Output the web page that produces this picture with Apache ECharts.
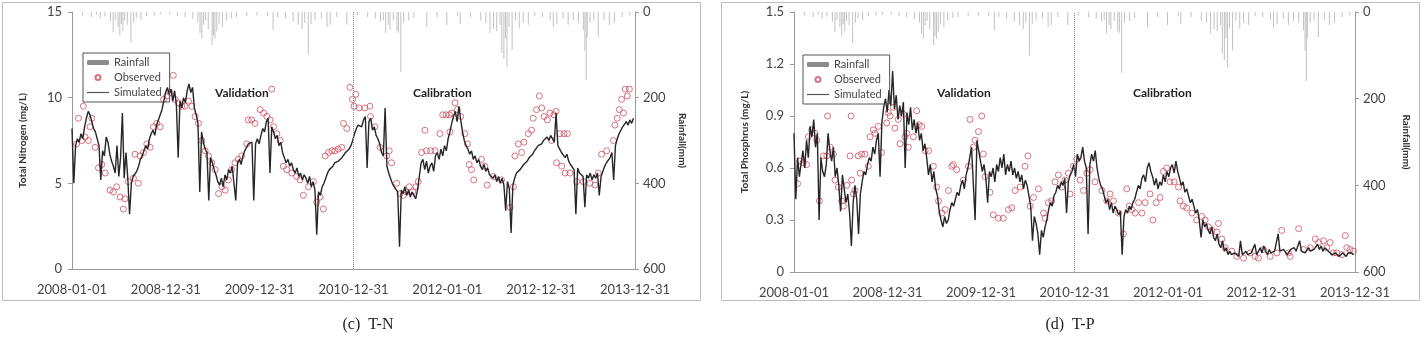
<!DOCTYPE html>
<html lang="en">
<head>
<meta charset="UTF-8">
<title>T-N / T-P</title>
<script src="https://cdn.jsdelivr.net/npm/echarts@6/dist/echarts.min.js"></script>
<style>html,body{margin:0;padding:0;background:#fff}</style>
</head>
<body>
<div id="main" style="width:1428px;height:341px"></div>
<script>
// day 0 = 2008-01-01, simulated values read off the picture once per week
var STEP = 7;
var tickLabels = ['2008-01-01', '2008-12-31', '2009-12-31', '2010-12-31', '2012-01-01', '2012-12-31', '2013-12-31'];
var splitDay = 1095; // 2010-12-31, validation | calibration

// [day, mm]
var rainfall = [
  [40,8],[75,12],[95,6],[110,15],[128,10],[150,22],[160,47],[168,18],[179,35],[186,55],[192,28],[198,45],[205,20],[215,30],[229,72],[240,25],[250,14],[268,18],[290,10],[320,8],[345,6],
  [380,6],[410,10],[440,12],[470,16],[490,24],[498,49],[505,61],[512,30],[520,20],[530,40],[545,77],[550,55],[556,62],[563,45],[572,28],[585,35],[600,20],[620,14],[640,12],[680,10],[720,8],
  [760,10],[782,42],[800,12],[830,15],[860,22],[880,30],[895,40],[905,25],[919,100],[930,28],[945,18],[970,15],[992,35],[1004,30],[1030,12],[1069,30],
  [1110,8],[1150,12],[1180,15],[1200,22],[1211,19],[1220,49],[1230,30],[1237,40],[1250,20],[1264,45],[1270,48],[1279,140],[1290,25],[1310,20],[1330,14],[1380,35],[1420,12],[1458,30],
  [1500,10],[1510,28],[1550,12],[1590,20],[1610,25],[1626,49],[1640,40],[1652,45],[1665,30],[1672,96],[1680,110],[1686,60],[1692,128],[1700,35],[1712,89],[1725,20],[1740,38],[1755,25],[1775,30],[1800,10],
  [1830,12],[1860,19],[1872,35],[1886,28],[1910,15],[1930,30],[1950,20],[1970,25],[1989,42],[1995,90],[2000,159],[2004,60],[2015,25],[2030,20],[2047,58],[2070,18],[2090,30],[2110,25],[2140,12],[2170,8]
];

var simTN = [
  8.2,5.0,7.2,7.6,7.4,7.9,7.6,8.3,8.8,9.2,
  9.0,8.6,8.2,8.0,7.6,7.2,5.2,6.9,6.6,7.7,
  7.4,6.7,6.3,6.0,5.6,7.2,5.4,6.5,9.1,5.3,
  6.8,5.3,3.2,5.0,5.4,5.3,5.7,6.0,6.4,6.6,
  6.9,7.2,7.0,7.6,7.9,8.1,7.8,8.4,8.7,8.6,
  9.3,9.8,10.3,10.6,10.2,10.5,9.8,10.4,9.6,6.5,
  9.8,9.4,10.0,9.7,10.4,10.8,10.3,10.6,9.4,9.0,
  8.5,4.5,8.0,7.4,7.0,6.8,4.0,6.5,6.2,5.8,
  5.5,5.1,4.9,5.3,4.8,5.5,5.2,5.8,5.6,6.0,
  5.9,4.0,6.2,6.4,6.1,6.6,6.9,7.0,7.3,7.2,
  7.4,4.0,7.3,7.6,7.3,7.8,8.2,8.0,8.6,8.8,
  5.6,8.3,8.0,7.6,7.8,7.2,7.4,6.8,6.5,6.2,
  6.4,6.0,6.2,5.8,5.6,5.9,5.4,5.6,5.2,5.5,
  5.3,5.0,5.4,4.8,5.1,4.6,2.0,4.5,4.3,4.8,
  5.0,5.3,5.6,5.8,5.9,6.0,6.2,6.1,6.3,6.4,
  6.5,6.6,6.8,6.7,7.0,7.2,7.5,7.9,8.2,8.4,
  8.5,8.3,8.7,8.9,5.9,8.6,8.8,8.1,8.3,7.8,
  7.6,7.3,6.8,6.6,9.4,6.0,5.6,5.3,5.0,4.8,
  4.7,4.5,1.3,4.6,4.4,4.8,4.3,4.6,4.2,4.5,
  4.3,4.1,4.6,5.4,6.2,6.4,5.8,6.3,5.6,6.0,
  6.2,5.7,6.6,6.8,6.4,7.0,6.6,7.2,6.9,7.6,
  8.0,8.5,8.9,9.2,8.6,9.5,8.7,8.0,7.5,7.2,
  7.0,6.7,6.9,6.4,6.6,6.2,6.4,6.0,5.8,6.1,
  5.7,5.9,5.5,5.6,5.3,5.5,5.1,5.4,5.0,5.3,
  4.9,3.4,5.1,4.7,2.1,4.9,5.3,5.6,5.5,5.8,
  5.9,6.1,6.0,6.3,6.5,6.4,6.7,6.9,7.0,7.2,
  7.1,7.3,7.5,7.4,7.7,7.5,7.8,7.6,7.4,9.1,
  7.2,7.0,6.8,6.9,6.5,6.7,6.3,6.1,6.0,5.8,
  3.2,5.9,5.6,5.7,5.4,3.6,5.5,5.3,5.6,5.2,
  5.5,5.3,5.6,4.3,5.4,5.7,6.0,6.2,6.3,6.5,
  6.8,5.2,7.2,7.6,7.9,8.1,8.3,8.2,8.6,8.4,
  8.7,8.5,8.8
];

// [day, mg/L]
var obsTN = [
  [18,7.3],[25,8.8],[38,7.5],[44,9.5],[51,7.7],[64,7.5],[70,8.3],[77,8.8],[90,7.1],[103,5.9],[116,6.1],[129,5.6],[148,4.6],[161,4.5],[174,4.8],[187,4.2],[200,3.5],[206,4.1],[219,5.1],[239,5.3],[245,6.7],[258,5.0],[265,6.6],[278,6.8],[291,7.3],[304,7.1],[317,8.3],[330,8.5],[343,8.3],[356,9.9],[369,10.1],[381,10.3],[394,11.3],[401,9.9],[414,9.7],[427,9.5],[440,9.5],[453,9.8],[466,9.5],[479,8.9],[492,8.5],[505,7.5],[518,6.9],[531,6.6],[544,6.2],[557,5.8],[570,4.4],[583,4.8],[596,4.6],[608,5.2],[621,5.8],[634,6.2],[647,6.4],[660,6.6],[680,7.3],[686,8.7],[699,8.7],[712,8.5],[732,9.3],[745,9.1],[758,8.9],[771,8.7],[777,10.5],[784,8.3],[797,7.9],[810,7.5],[822,6.0],[835,5.8],[855,5.6],[874,5.4],[887,5.2],[900,4.3],[920,4.8],[939,5.1],[952,3.9],[965,4.2],[978,3.5],[985,6.6],[998,6.8],[1011,6.9],[1023,6.9],[1036,7.0],[1049,7.1],[1056,8.5],[1069,8.2],
  [1081,10.6],[1091,9.9],[1097,9.5],[1104,10.2],[1117,9.4],[1139,9.4],[1159,9.5],[1161,8.9],[1178,8.3],[1198,7.1],[1224,6.6],[1234,6.9],[1243,6.2],[1263,5.0],[1276,4.4],[1289,4.3],[1301,4.5],[1312,4.8],[1325,4.5],[1338,4.8],[1347,5.1],[1360,6.8],[1373,8.1],[1379,6.9],[1395,6.9],[1412,6.9],[1431,7.9],[1442,9.0],[1455,9.0],[1468,9.0],[1470,8.0],[1477,9.1],[1490,9.7],[1499,9.3],[1512,8.9],[1528,7.9],[1538,7.3],[1545,6.1],[1554,5.8],[1563,5.2],[1593,6.4],[1606,6.0],[1615,4.9],[1639,5.4],[1671,5.2],[1704,3.6],[1717,4.8],[1723,6.6],[1736,7.3],[1749,6.8],[1758,7.4],[1775,7.9],[1788,8.1],[1794,8.8],[1807,9.3],[1818,10.1],[1827,9.4],[1836,8.9],[1849,8.7],[1859,9.1],[1866,7.5],[1875,9.0],[1883,9.2],[1885,6.2],[1898,7.9],[1905,6.0],[1914,7.9],[1918,5.6],[1927,7.9],[1937,5.6],[1963,5.1],[1989,5.1],[2015,5.0],[2034,4.9],[2047,5.6],[2060,6.7],[2080,6.9],[2106,7.5],[2112,8.4],[2121,8.8],[2129,9.3],[2138,9.9],[2145,9.1],[2152,10.5],[2160,10.1],[2168,10.5]
];

var simTP = [
  0.80,0.42,0.66,0.55,0.63,0.70,0.60,0.76,0.66,0.84,
  0.78,0.88,0.72,0.80,0.30,0.66,0.58,0.55,0.62,0.80,
  0.70,0.64,0.72,0.55,0.60,0.50,0.35,0.56,0.48,0.40,
  0.45,0.34,0.15,0.40,0.50,0.42,0.22,0.45,0.52,0.58,
  0.56,0.62,0.66,0.64,0.72,0.68,0.76,0.80,0.55,0.86,
  0.95,1.00,0.92,1.05,0.96,1.16,0.94,1.02,0.88,0.96,
  0.90,0.98,0.60,0.92,0.85,0.95,0.82,0.88,0.80,0.86,
  0.76,0.80,0.70,0.74,0.66,0.56,0.62,0.52,0.58,0.48,
  0.44,0.35,0.30,0.26,0.32,0.28,0.30,0.36,0.40,0.38,
  0.42,0.46,0.44,0.50,0.53,0.48,0.56,0.60,0.66,0.72,
  0.72,0.30,0.76,0.70,0.64,0.58,0.62,0.54,0.40,0.58,
  0.55,0.60,0.52,0.62,0.58,0.66,0.60,0.68,0.56,0.62,
  0.58,0.64,0.56,0.60,0.54,0.58,0.52,0.56,0.48,0.53,
  0.50,0.44,0.38,0.18,0.32,0.28,0.22,0.10,0.24,0.20,
  0.26,0.30,0.36,0.40,0.38,0.44,0.46,0.50,0.48,0.52,
  0.50,0.54,0.34,0.52,0.56,0.58,0.62,0.55,0.68,0.64,
  0.66,0.72,0.64,0.60,0.22,0.62,0.68,0.64,0.70,0.60,
  0.54,0.50,0.48,0.44,0.40,0.42,0.36,0.40,0.34,0.38,
  0.36,0.33,0.35,0.10,0.32,0.36,0.34,0.38,0.36,0.40,
  0.42,0.46,0.50,0.48,0.54,0.56,0.52,0.60,0.63,0.58,
  0.55,0.50,0.54,0.48,0.52,0.50,0.56,0.52,0.58,0.55,
  0.60,0.62,0.57,0.64,0.58,0.54,0.50,0.52,0.46,0.48,
  0.44,0.40,0.42,0.38,0.34,0.36,0.30,0.20,0.30,0.26,
  0.28,0.24,0.22,0.26,0.20,0.18,0.22,0.16,0.14,0.18,
  0.12,0.14,0.10,0.12,0.10,0.09,0.11,0.10,0.09,0.18,
  0.10,0.09,0.12,0.10,0.09,0.11,0.10,0.16,0.10,0.12,
  0.14,0.11,0.15,0.12,0.10,0.13,0.11,0.10,0.12,0.11,
  0.22,0.12,0.11,0.13,0.12,0.10,0.11,0.13,0.12,0.14,
  0.12,0.11,0.18,0.12,0.13,0.11,0.12,0.14,0.12,0.11,
  0.13,0.12,0.16,0.13,0.15,0.12,0.14,0.13,0.12,0.11,
  0.10,0.09,0.11,0.10,0.09,0.10,0.11,0.10,0.09,0.11,
  0.10,0.11,0.10
];

var obsTP = [
  [14,0.51],[23,0.64],[36,0.63],[49,0.62],[56,0.78],[69,0.82],[82,0.80],[89,0.76],[99,0.41],[115,0.67],[128,0.67],[131,0.90],[141,0.72],[154,0.68],[160,0.53],[173,0.49],[186,0.41],[193,0.38],[206,0.50],[219,0.67],[223,0.90],[225,0.53],[232,0.45],[238,0.47],[251,0.67],[258,0.57],[264,0.68],[277,0.68],[290,0.61],[297,0.78],[310,0.82],[316,0.80],[329,0.84],[342,0.69],[362,0.86],[368,0.92],[375,0.90],[388,0.95],[394,0.83],[407,0.88],[414,0.74],[427,0.91],[433,0.78],[440,0.80],[446,0.72],[466,0.78],[479,0.93],[488,0.85],[499,0.84],[512,0.70],[525,0.70],[544,0.61],[557,0.49],[564,0.41],[577,0.34],[590,0.36],[603,0.47],[616,0.61],[622,0.62],[635,0.59],[661,0.53],[681,0.61],[687,0.88],[700,0.72],[707,0.76],[720,0.81],[733,0.90],[739,0.68],[746,0.55],[765,0.46],[778,0.33],[798,0.31],[817,0.31],[837,0.36],[850,0.37],[863,0.47],[883,0.49],[902,0.61],[913,0.67],[922,0.38],[935,0.43],[954,0.48],[974,0.34],[980,0.31],[993,0.40],[1006,0.41],[1019,0.52],[1032,0.56],[1045,0.49],[1058,0.53],[1071,0.57],[1078,0.45],
  [1091,0.61],[1104,0.65],[1117,0.53],[1130,0.47],[1143,0.57],[1156,0.59],[1175,0.52],[1202,0.47],[1221,0.41],[1234,0.45],[1247,0.41],[1267,0.34],[1286,0.22],[1299,0.48],[1309,0.38],[1319,0.36],[1332,0.34],[1345,0.40],[1358,0.34],[1371,0.40],[1390,0.45],[1401,0.30],[1414,0.40],[1429,0.43],[1442,0.58],[1455,0.60],[1468,0.52],[1484,0.52],[1501,0.49],[1507,0.41],[1520,0.38],[1533,0.37],[1553,0.34],[1572,0.30],[1592,0.32],[1605,0.30],[1618,0.26],[1631,0.24],[1651,0.23],[1657,0.28],[1670,0.19],[1683,0.14],[1709,0.12],[1729,0.09],[1755,0.08],[1781,0.11],[1800,0.09],[1813,0.08],[1833,0.13],[1859,0.09],[1885,0.11],[1904,0.24],[1930,0.11],[1937,0.09],[1970,0.25],[1989,0.13],[2015,0.14],[2035,0.19],[2048,0.17],[2067,0.18],[2080,0.14],[2093,0.17],[2106,0.11],[2119,0.11],[2139,0.10],[2152,0.21],[2158,0.14],[2171,0.13],[2184,0.12]
];

function weekly(list) {
  return list.map(function (v, i) { return [i * STEP, v]; });
}

var FONT = 'Lato';
var axisGray = '#9a9a9a';
var labelColor = '#444';

function xAxisFor(g) {
  return {
    gridIndex: g, type: 'value', min: 0, max: 2190, interval: 365,
    axisLine: { onZero: false, lineStyle: { color: axisGray } },
    axisTick: { show: false },
    splitLine: { show: false },
    axisLabel: {
      color: labelColor, fontSize: 13, margin: 14, showMinLabel: true, showMaxLabel: true,
      formatter: function (v) { return tickLabels[Math.round(v / 365)]; }
    }
  };
}

function leftAxisFor(g, max, interval, name, fmt) {
  return {
    gridIndex: g, type: 'value', min: 0, max: max, interval: interval, position: 'left',
    name: name, nameLocation: 'middle', nameGap: 44,
    nameTextStyle: { fontWeight: 'bold', fontSize: 10, color: '#333' },
    axisLine: { show: true, lineStyle: { color: axisGray } },
    axisTick: { show: true, length: 4, lineStyle: { color: axisGray } },
    splitLine: { show: false },
    axisLabel: { color: labelColor, fontSize: 13, margin: 10, formatter: fmt }
  };
}

function rainAxisFor(g, gap) {
  return {
    gridIndex: g, type: 'value', min: 0, max: 600, interval: 200, position: 'right', inverse: true,
    name: 'Rainfall(mm)', nameLocation: 'middle', nameGap: gap, nameRotate: -90,
    nameTextStyle: { fontWeight: 'bold', fontSize: 10, color: '#333' },
    axisLine: { show: true, lineStyle: { color: axisGray } },
    axisTick: { show: true, length: 4, lineStyle: { color: axisGray } },
    splitLine: { show: false },
    axisLabel: { color: labelColor, fontSize: 13, margin: 8 }
  };
}

function seriesFor(g, sim, obs) {
  return [
    {
      name: 'Rainfall', type: 'bar', xAxisIndex: g, yAxisIndex: g * 2 + 1,
      data: rainfall, barWidth: 1, itemStyle: { color: '#c2c2c2' }, silent: true
    },
    {
      name: 'Simulated', type: 'line', xAxisIndex: g, yAxisIndex: g * 2,
      data: weekly(sim), symbol: 'none', showSymbol: false,
      lineStyle: { color: '#262626', width: 1.4 }, itemStyle: { color: '#262626' },
      markLine: {
        silent: true, symbol: 'none', label: { show: false },
        lineStyle: { color: '#888', type: 'dotted', width: 1 },
        data: [{ xAxis: splitDay }]
      }
    },
    {
      name: 'Observed', type: 'scatter', xAxisIndex: g, yAxisIndex: g * 2,
      data: obs, symbol: 'circle', symbolSize: 6,
      itemStyle: { color: 'rgba(255,255,255,0)', borderColor: '#cf4f62', borderWidth: 1 }
    }
  ];
}

function legendFor(left, top) {
  return {
    left: left, top: top, orient: 'vertical',
    data: [
      { name: 'Rainfall', itemStyle: { color: '#8c8c8c' } },
      'Observed',
      { name: 'Simulated', icon: 'path://M0,0L22,0L22,1.2L0,1.2Z', itemStyle: { color: '#555' } }
    ],
    itemWidth: 22, itemHeight: 5, itemGap: 4,
    borderColor: '#555', borderWidth: 1, padding: [4, 8, 4, 4],
    textStyle: { fontSize: 11, color: '#444', fontFamily: FONT }
  };
}

function label(x, y, text) {
  return { type: 'text', x: x, y: y, style: { text: text, font: 'bold 12px Lato', fill: '#222' } };
}

var chart = echarts.init(document.getElementById('main'));

var option = {
  animation: false,
  backgroundColor: '#fff',
  textStyle: { fontFamily: FONT },
  grid: [
    { left: 72, right: 793, top: 12, bottom: 72 },
    { left: 794, right: 73, top: 12, bottom: 69 }
  ],
  xAxis: [xAxisFor(0), xAxisFor(1)],
  yAxis: [
    leftAxisFor(0, 15, 5, 'Total Nitrogen (mg/L)'),
    rainAxisFor(0, 42),
    leftAxisFor(1, 1.5, 0.3, 'Total Phosphrus (mg/L)', function (v) { return v === 0 ? '0' : v.toFixed(1); }),
    rainAxisFor(1, 46)
  ],
  legend: [legendFor(83, 53), legendFor(803, 55)],
  series: seriesFor(0, simTN, obsTN).concat(seriesFor(1, simTP, obsTP)),
  graphic: [
    { type: 'rect', shape: { x: 2.5, y: 2.5, width: 698, height: 298 }, style: { fill: 'none', stroke: '#bdbdbd', lineWidth: 1 }, silent: true },
    { type: 'rect', shape: { x: 721.5, y: 2.5, width: 698, height: 298 }, style: { fill: 'none', stroke: '#bdbdbd', lineWidth: 1 }, silent: true },
    label(215, 87, 'Validation'),
    label(413, 87, 'Calibration'),
    label(937, 87, 'Validation'),
    label(1133, 87, 'Calibration'),
    { type: 'text', x: 368, y: 325, style: { text: '(c)  T-N', font: '16px "Liberation Serif"', fill: '#222', align: 'center', verticalAlign: 'middle' } },
    { type: 'text', x: 1070, y: 325, style: { text: '(d)  T-P', font: '16px "Liberation Serif"', fill: '#222', align: 'center', verticalAlign: 'middle' } }
  ]
};

chart.setOption(option);
</script>
</body>
</html>
